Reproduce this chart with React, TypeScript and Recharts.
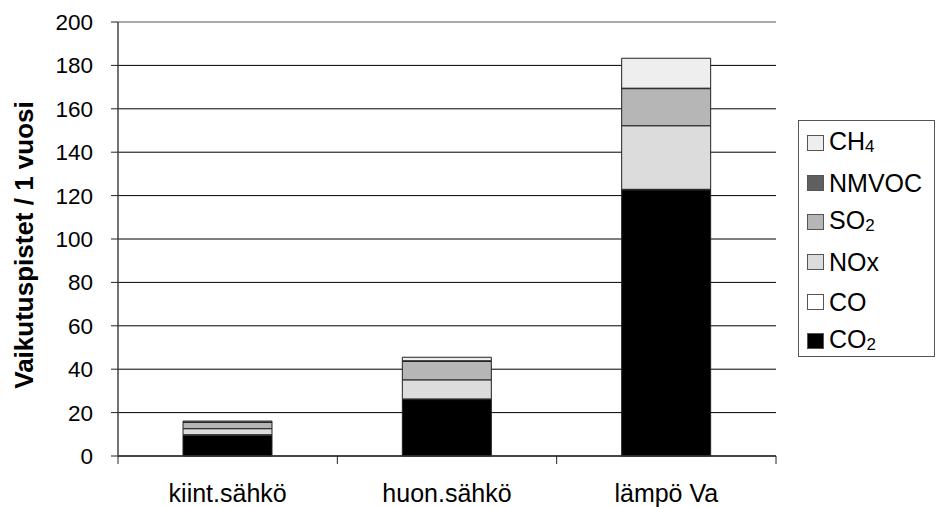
import React from 'react';
import { BarChart, Bar, XAxis, YAxis, CartesianGrid, ReferenceLine } from 'recharts';

const categories = ['kiint.sähkö', 'huon.sähkö', 'lämpö Va'];
const co2 = [9.6, 26.0, 122.6];
const co = [0.2, 0.3, 0.3];
const nox = [2.8, 8.8, 29.3];
const so2 = [3.0, 8.5, 17.1];
const nmvoc = [0.1, 0.3, 0.2];
const ch4 = [0.4, 1.6, 13.8];
const yTicks = [0, 20, 40, 60, 80, 100, 120, 140, 160, 180, 200];

const series = [
  { key: 'CO2', name: 'CO', sub: '2', values: co2, color: '#000000' },
  { key: 'CO', name: 'CO', sub: '', values: co, color: '#ffffff' },
  { key: 'NOx', name: 'NOx', sub: '', values: nox, color: '#dcdcdc' },
  { key: 'SO2', name: 'SO', sub: '2', values: so2, color: '#b6b6b6' },
  { key: 'NMVOC', name: 'NMVOC', sub: '', values: nmvoc, color: '#5f5f5f' },
  { key: 'CH4', name: 'CH', sub: '4', values: ch4, color: '#eeeeee' },
];

const data = categories.map((c, i) => {
  const row: Record<string, any> = { name: c };
  series.forEach((s) => {
    row[s.key] = s.values[i];
  });
  return row;
});

const FONT = '"Liberation Sans", Arial, sans-serif';

const CategoryTick = (props: any) => {
  const { x, y, payload, index, visibleTicksCount } = props;
  const half = payload && payload.offset ? payload.offset : 658 / 6;
  const last = index === (visibleTicksCount ?? 3) - 1;
  return (
    <g>
      <line x1={x - half} x2={x - half} y1={y - 8} y2={y} stroke="#222" strokeWidth={1} />
      {last && <line x1={x + half} x2={x + half} y1={y - 8} y2={y} stroke="#222" strokeWidth={1} />}
      <text x={x} y={y + 38} textAnchor="middle" fontSize={25} fontFamily={FONT} fill="#000">
        {payload.value}
      </text>
    </g>
  );
};

const YTitle = (props: any) => {
  const vb = props.viewBox || { x: 0, y: 22, width: 118, height: 434 };
  const cx = vb.x + 33;
  const cy = vb.y + vb.height / 2 + 6;
  return (
    <text
      x={cx}
      y={cy}
      transform={`rotate(-90 ${cx} ${cy})`}
      textAnchor="middle"
      fontSize={26}
      fontWeight="bold"
      fontFamily={FONT}
      fill="#000"
    >
      Vaikutuspistet / 1 vuosi
    </text>
  );
};

const LegendBox = () => {
  const items = [...series].reverse();
  return (
    <div
      style={{
        position: 'absolute',
        left: 798,
        top: 120,
        border: '1px solid #555',
        width: 137,
        height: 237,
        boxSizing: 'border-box',
        paddingTop: 2,
        fontFamily: FONT,
        background: '#fff',
      }}
    >
      {items.map((s) => (
        <div key={s.key} style={{ display: 'flex', alignItems: 'center', height: 39.7, paddingLeft: 8 }}>
          <span
            style={{
              display: 'inline-block',
              width: 17,
              height: 16,
              background: s.color,
              border: '1px solid #555',
              boxSizing: 'border-box',
              marginRight: 5,
              flexShrink: 0,
            }}
          />
          <span style={{ fontSize: 25, color: '#000', lineHeight: '26px', whiteSpace: 'nowrap' }}>
            {s.name}
            {s.sub && <span style={{ fontSize: 17, position: 'relative', top: 2 }}>{s.sub}</span>}
          </span>
        </div>
      ))}
    </div>
  );
};

export default function App() {
  return (
    <div style={{ position: 'absolute', left: 0, top: 0, width: 936, height: 507, background: '#fff' }}>
      <BarChart
        width={936}
        height={507}
        data={data}
        margin={{ top: 22, right: 160, bottom: 0, left: 0 }}
        style={{ fontFamily: FONT }}
      >
        <CartesianGrid horizontal vertical={false} stroke="#000" strokeWidth={1} />
        <XAxis
          dataKey="name"
          height={51}
          axisLine={{ stroke: '#333', strokeWidth: 1.5 }}
          tickLine={false}
          tick={<CategoryTick />}
          interval={0}
        />
        <YAxis
          domain={[0, 200]}
          ticks={yTicks}
          width={118}
          interval={0}
          tickSize={7}
          axisLine={{ stroke: '#444', strokeWidth: 1.5 }}
          tickLine={{ stroke: '#222' }}
          tick={{ fontSize: 22.5, fill: '#000', fontFamily: FONT, dx: -16 }}
          label={<YTitle />}
        />
        <YAxis
          yAxisId="right"
          orientation="right"
          domain={[0, 200]}
          width={0}
          tick={false}
          tickLine={false}
          axisLine={{ stroke: '#aaa', strokeWidth: 2 }}
        />
        <ReferenceLine y={200} stroke="#aaa" strokeWidth={2} />
        {series.map((s) => (
          <Bar
            key={s.key}
            dataKey={s.key}
            stackId="a"
            fill={s.color}
            stroke="#222"
            strokeWidth={1}
            barSize={89}
            isAnimationActive={false}
          />
        ))}
      </BarChart>
      <LegendBox />
    </div>
  );
}
